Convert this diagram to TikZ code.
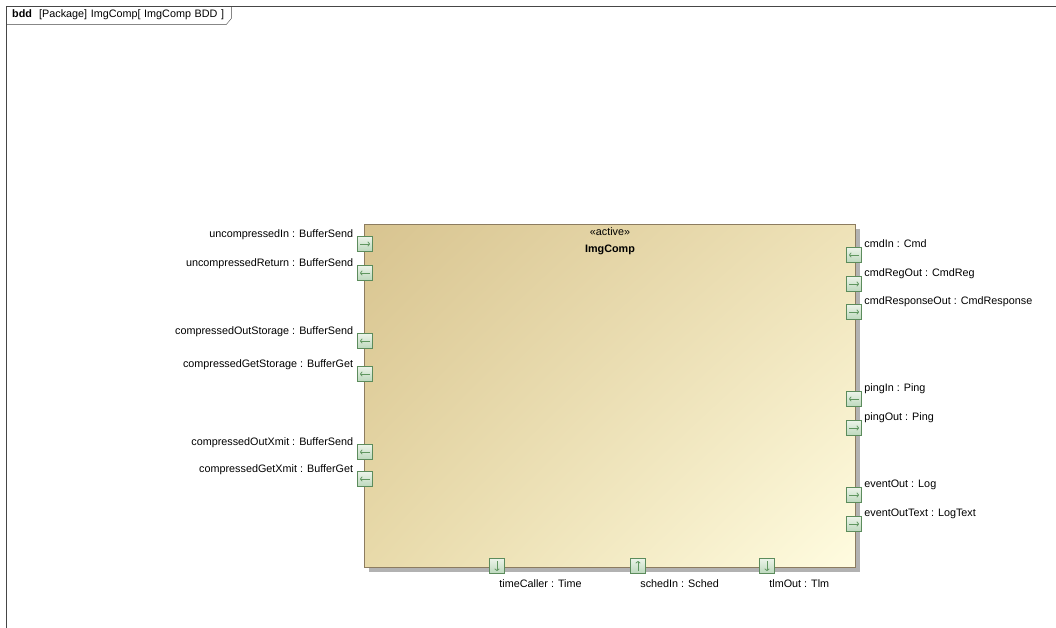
\documentclass[tikz,border=0pt]{standalone}
\usepackage{fontspec}
\setmainfont{Liberation Sans}
\usetikzlibrary{
    arrows,
    arrows.meta,
    positioning,
    calc,
    shadows,
    shadings,
}
\definecolor{frameline}{RGB}{70,70,70}
\definecolor{blocktan}{RGB}{216,196,144}
\definecolor{blockmidA}{RGB}{238,226,184}
\definecolor{blockmidB}{RGB}{232,218,170}
\definecolor{blockcream}{RGB}{255,252,224}
\definecolor{blockline}{RGB}{140,124,96}
\definecolor{porttop}{RGB}{236,244,234}
\definecolor{portbot}{RGB}{188,216,188}
\definecolor{portline}{RGB}{92,140,92}
\definecolor{portarrow}{RGB}{96,150,96}

\begin{document}
\begin{tikzpicture}[
    x=1pt, y=-1pt,
    every node/.style={font=\fontsize{10.8}{13}\selectfont},
    block/.style={draw=blockline, line width=1pt, anchor=north west,
    minimum width=491pt, minimum height=343pt, upper left=blocktan,
    upper right=blockmidA, lower left=blockmidB, lower right=blockcream,
    drop shadow={shadow xshift=4pt, shadow yshift=-4pt, fill=black!30,
    opacity=1}},
    port/.style={draw=portline, top color=porttop, bottom color=portbot,
    minimum size=15pt, inner sep=0pt},
    parrow/.style={portarrow, line width=0.8pt,
    -{To[length=2.5pt, width=5pt]}},
    pR/.style={port, path picture={\draw[parrow]
    ([xshift=2.5pt]path picture bounding box.west) --
    ([xshift=-2.5pt]path picture bounding box.east);}},
    pL/.style={port, path picture={\draw[parrow]
    ([xshift=-2.5pt]path picture bounding box.east) --
    ([xshift=2.5pt]path picture bounding box.west);}},
    pD/.style={port, path picture={\draw[parrow]
    ([yshift=-2.5pt]path picture bounding box.north) --
    ([yshift=2.5pt]path picture bounding box.south);}},
    pU/.style={port, path picture={\draw[parrow]
    ([yshift=2.5pt]path picture bounding box.south) --
    ([yshift=-2.5pt]path picture bounding box.north);}},
    plabel/.style={inner sep=0pt, text height=8pt, text depth=2.5pt},
]

\useasboundingbox (0,0) rectangle (1056,627);

% FRAME
\node[plabel, anchor=north west, inner xsep=6pt, minimum height=18pt,
    text width=213pt, align=left] at (6,6) (tab)
    {\textbf{bdd} \ [Package] ImgComp[ ImgComp BDD ]};
\draw[frameline] (6,640) -- (6,6) -- (1070,6);
\draw[frameline] (tab.south west) -- ([xshift=-5pt]tab.south east)
    -- ([yshift=6pt]tab.south east) -- (tab.north east);

% BLOCK
\node[block] at (364,224) (comp) {};
\node[plabel, below=3pt of comp.north] (ster) {«active»};
\node[plabel, font=\fontsize{10.8}{13}\selectfont\bfseries,
    below=6pt of ster] (name) {ImgComp};

% LEFT PORTS
\node[pR] at (365,244) (uIn) {};
\node[pL] at (365,273) (uRet) {};
\node[pL] at (365,341) (cOutSto) {};
\node[pL] at (365,374) (cGetSto) {};
\node[pL] at (365,452) (cOutXm) {};
\node[pL] at (365,479) (cGetXm) {};

\node[plabel, above left=-3.5pt and 4pt of uIn] {uncompressedIn : BufferSend};
\node[plabel, above left=-3.5pt and 4pt of uRet] {uncompressedReturn : BufferSend};
\node[plabel, above left=-3.5pt and 4pt of cOutSto] {compressedOutStorage : BufferSend};
\node[plabel, above left=-3.5pt and 4pt of cGetSto] {compressedGetStorage : BufferGet};
\node[plabel, above left=-3.5pt and 4pt of cOutXm] {compressedOutXmit : BufferSend};
\node[plabel, above left=-3.5pt and 4pt of cGetXm] {compressedGetXmit : BufferGet};

% RIGHT PORTS
\node[pL] at (854,255) (cmdIn) {};
\node[pR] at (854,284) (cmdReg) {};
\node[pR] at (854,312) (cmdResp) {};
\node[pL] at (854,399) (pingIn) {};
\node[pR] at (854,428) (pingOut) {};
\node[pR] at (854,495) (evOut) {};
\node[pR] at (854,524) (evText) {};

\node[plabel, above right=-3pt and 2.5pt of cmdIn] {cmdIn : Cmd};
\node[plabel, above right=-3pt and 2.5pt of cmdReg] {cmdRegOut : CmdReg};
\node[plabel, above right=-3pt and 2.5pt of cmdResp] {cmdResponseOut : CmdResponse};
\node[plabel, above right=-3pt and 2.5pt of pingIn] {pingIn : Ping};
\node[plabel, above right=-3pt and 2.5pt of pingOut] {pingOut : Ping};
\node[plabel, above right=-3pt and 2.5pt of evOut] {eventOut : Log};
\node[plabel, above right=-3pt and 2.5pt of evText] {eventOutText : LogText};

% BOTTOM PORTS
\node[pD] at (497,566) (tCall) {};
\node[pU] at (638,566) (sched) {};
\node[pD] at (767,566) (tlm) {};

\node[plabel, below right=5.5pt and -5.5pt of tCall] {timeCaller : Time};
\node[plabel, below right=5.5pt and -5.5pt of sched] {schedIn : Sched};
\node[plabel, below right=5.5pt and -5.5pt of tlm] {tlmOut : Tlm};

\end{tikzpicture}
\end{document}
